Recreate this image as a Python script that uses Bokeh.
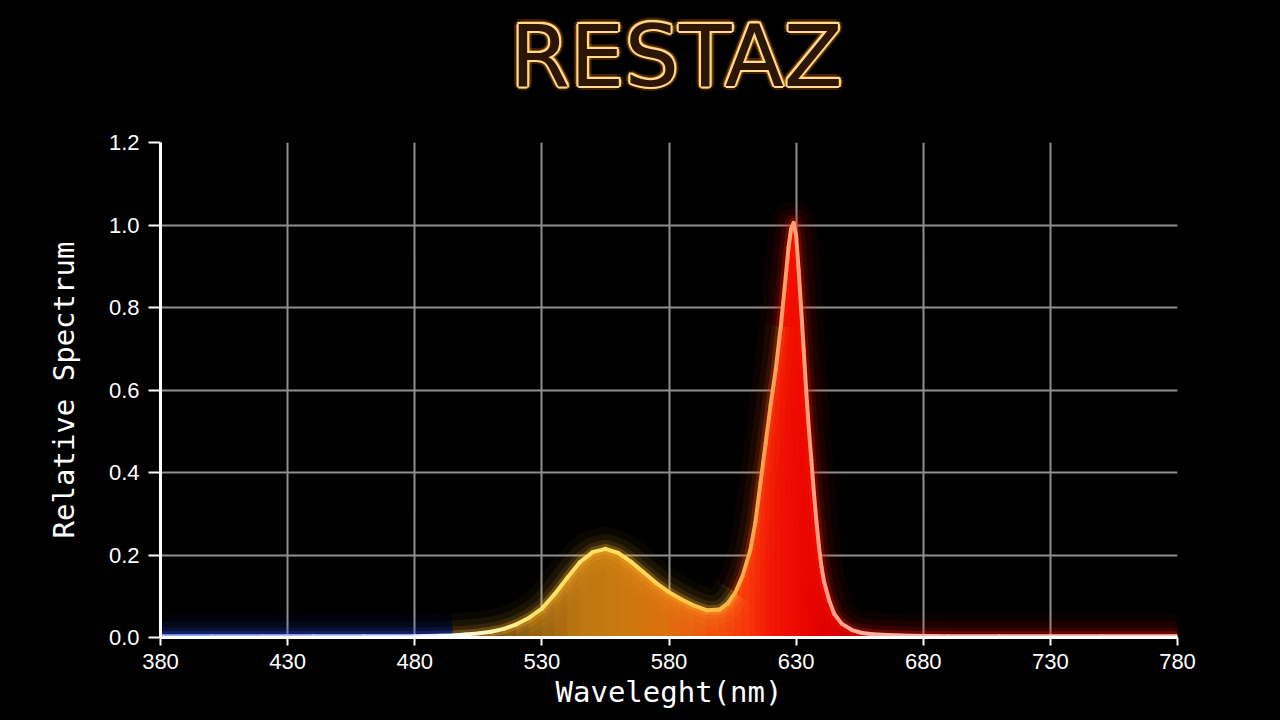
import numpy as np
from bokeh.plotting import figure
from bokeh.layouts import column
from bokeh.models import Range1d, FixedTicker, NumeralTickFormatter
from bokeh.core.properties import value
from bokeh.embed import file_html
from bokeh.resources import INLINE

# ---------------- data ----------------
wavelength = [380, 400, 420, 440, 460, 480, 490, 495, 500, 505, 510, 515, 520, 525,
              530, 535, 540, 545, 550, 555, 560, 565, 570, 575, 580, 585, 590, 595,
              600, 603, 606, 609, 612, 614, 616, 618, 620, 622, 624, 626, 627, 628,
              629, 630, 631, 632, 633, 634, 635, 636, 637, 638, 639, 640, 641, 643,
              645, 648, 652, 656, 660, 666, 675, 690, 710, 730, 750, 780]
spectrum = [0.003, 0.003, 0.003, 0.003, 0.003, 0.003, 0.004, 0.005, 0.007, 0.010, 0.014, 0.021, 0.032, 0.048,
            0.070, 0.105, 0.145, 0.183, 0.207, 0.215, 0.205, 0.184, 0.158, 0.132, 0.110, 0.092, 0.077, 0.066,
            0.068, 0.082, 0.108, 0.150, 0.212, 0.280, 0.375, 0.470, 0.565, 0.650, 0.755, 0.880, 0.945, 0.990,
            1.005, 0.975, 0.890, 0.795, 0.695, 0.595, 0.505, 0.430, 0.350, 0.280, 0.220, 0.170, 0.135, 0.090,
            0.057, 0.033, 0.018, 0.011, 0.008, 0.006, 0.004, 0.003, 0.003, 0.003, 0.003, 0.003]
x_ticks = [380, 430, 480, 530, 580, 630, 680, 730, 780]
y_ticks = [0.0, 0.2, 0.4, 0.6, 0.8, 1.0, 1.2]
title_text = "RESTAZ"
x_label = "Waveleght(nm)"
y_label = "Relative Spectrum"

# ---------------- style helpers ----------------
def hex_rgb(h):
    h = h.lstrip("#")
    return [int(h[i:i + 2], 16) for i in (0, 2, 4)]

def color_at(xs, stops):
    sx = [s[0] for s in stops]
    rgb = np.array([hex_rgb(s[1]) for s in stops], dtype=float)
    out = []
    for x in np.atleast_1d(xs):
        c = [int(round(np.interp(x, sx, rgb[:, k]))) for k in range(3)]
        out.append("#%02x%02x%02x" % tuple(c))
    return out

fill_stops = [(380, "#101840"), (490, "#141018"), (505, "#3a2206"), (525, "#8e5c10"),
              (545, "#bc7612"), (560, "#c87a10"), (580, "#de6e10"), (595, "#ee5810"),
              (610, "#f83a0a"), (620, "#f21805"), (632, "#ec0800"), (645, "#d80000"),
              (665, "#700000"), (780, "#300000")]
line_stops = [(380, "#8fa6ff"), (470, "#c8d4ff"), (497, "#ffffff"), (512, "#fff2a8"),
              (528, "#ffe46a"), (560, "#ffe060"), (585, "#ffcc50"), (605, "#ffb444"),
              (618, "#ffa050"), (628, "#ffa070"), (640, "#ff9a84"), (660, "#ffb0a0"),
              (780, "#ffc0b4")]

LEFT, RIGHT = 160, 103
FULL_W = 1280

# ---------------- neon title (own small figure on top) ----------------
TH = 110
tf = figure(width=FULL_W, height=TH, output_backend="svg", toolbar_location=None,
            x_range=Range1d(LEFT, FULL_W - RIGHT), y_range=Range1d(0, TH),
            x_axis_type=None, y_axis_type=None,
            min_border_left=LEFT, min_border_right=RIGHT, min_border_top=0, min_border_bottom=0,
            background_fill_color="black", border_fill_color="black")
tf.outline_line_color = None
tf.grid.visible = False

tx, ty = 676, TH - 55
dxs, dys, tcols, talph = [], [], [], []
for r, col, al in [(5, "#ff8000", 0.13), (3.2, "#ffa020", 0.25)]:
    for k in range(8):
        ang = 2 * np.pi * k / 8 + np.pi / 8
        dxs.append(r * np.cos(ang)); dys.append(r * np.sin(ang))
        tcols.append(col); talph.append(al)
for k in range(8):
    ang = 2 * np.pi * k / 8
    dxs.append(2.0 * np.cos(ang)); dys.append(2.0 * np.sin(ang))
    tcols.append("#ffdb90"); talph.append(1.0)
dxs.append(0); dys.append(0); tcols.append("#2e1604"); talph.append(1.0)
n = len(dxs)
tf.text(x=[tx] * n, y=[ty] * n, text=[title_text] * n, x_offset=dxs, y_offset=dys,
        text_color=tcols, text_alpha=talph, text_font=value("DejaVu Sans"),
        text_font_size=value("86px"), text_align="center", text_baseline="middle")

# ---------------- main chart ----------------
H = 720 - TH
p = figure(width=FULL_W, height=H, output_backend="svg", toolbar_location=None,
           x_range=Range1d(380, 780), y_range=Range1d(0, 1.2),
           min_border_left=LEFT, min_border_right=RIGHT, min_border_top=142 - TH, min_border_bottom=83,
           background_fill_color="black", border_fill_color="black")
p.outline_line_color = None

# grid
p.grid.grid_line_color = "#8f8f8f"
p.grid.grid_line_width = 2
p.xgrid.ticker = FixedTicker(ticks=x_ticks, minor_ticks=[])
p.ygrid.ticker = FixedTicker(ticks=y_ticks, minor_ticks=[])

# axes
for ax in (p.xaxis[0], p.yaxis[0]):
    ax.axis_line_color = "white"
    ax.axis_line_width = 3
    ax.major_tick_line_color = "white"
    ax.major_tick_line_width = 2
    ax.major_tick_in = 0
    ax.minor_tick_line_color = None
    ax.major_label_text_color = "white"
    ax.major_label_text_font = "Liberation Sans"
    ax.major_label_text_font_size = "22px"
    ax.axis_label_text_color = "white"
    ax.axis_label_text_font = "DejaVu Sans Mono"
    ax.axis_label_text_font_size = "29px"
    ax.axis_label_text_font_style = "normal"
p.xaxis.ticker = FixedTicker(ticks=x_ticks, minor_ticks=[])
p.yaxis.ticker = FixedTicker(ticks=y_ticks, minor_ticks=[])
p.yaxis.formatter = NumeralTickFormatter(format="0.0")
p.xaxis.major_tick_out = 8
p.xaxis.major_label_standoff = 8
p.xaxis.axis_label = x_label
p.xaxis.axis_label_standoff = 3
p.yaxis.major_tick_out = 12
p.yaxis.major_label_standoff = 9
p.yaxis.axis_label = y_label
p.yaxis.axis_label_standoff = 25

# ---------------- fill under curve (colour by wavelength) ----------------
xs_p, ys_p, cols = [], [], []
for i in range(len(wavelength) - 1):
    x0, x1 = wavelength[i], wavelength[i + 1]
    y0, y1 = spectrum[i], spectrum[i + 1]
    xs_p.append([x0, x0, x1, x1])
    ys_p.append([0, y0, y1, 0])
    cols.append(color_at((x0 + x1) / 2, fill_stops)[0])
p.patches(xs_p, ys_p, fill_color=cols, line_color=cols, line_width=1)

# ---------------- glow ----------------
wl = np.array(wavelength)
sp = np.array(spectrum)
chunks = [(380, 495, "#3050ff"), (495, 606, "#ffb830"), (606, 624, "#ff5010"), (624, 780, "#ff1800")]
for width, alpha in [(44, 0.04), (30, 0.07), (18, 0.12), (10, 0.25)]:
    for a, b, c in chunks:
        m = (wl >= a) & (wl <= b)
        p.line(wl[m], sp[m], line_color=c, line_width=width, line_alpha=alpha,
               line_join="round", line_cap="butt")

# ---------------- core line ----------------
seg_cols = color_at([(wavelength[i] + wavelength[i + 1]) / 2 for i in range(len(wavelength) - 1)], line_stops)
p.segment(wavelength[:-1], spectrum[:-1], wavelength[1:], spectrum[1:],
          line_color=seg_cols, line_width=4, line_cap="round")

layout = column(tf, p, spacing=0)
html = file_html(layout, INLINE)
html = html.replace("<head>", "<head><style>html, body { background: #000000; }</style>", 1)
open("out.html", "w").write(html)
